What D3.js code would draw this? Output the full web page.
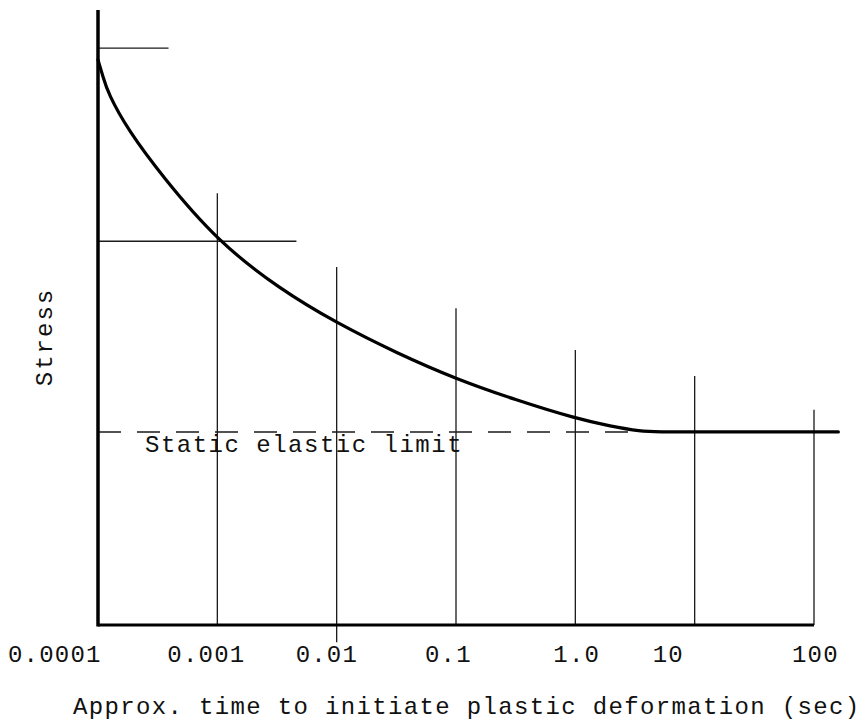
<!DOCTYPE html>
<html>
<head>
<meta charset="utf-8">
<script src="https://cdn.jsdelivr.net/npm/d3@7"></script>
<style>
  html, body { margin: 0; padding: 0; background: #fff; }
  svg { display: block; }
  text { font-family: "Liberation Mono", "DejaVu Sans Mono", monospace; fill: #111; }
</style>
</head>
<body>
<svg id="chart" width="867" height="723"></svg>
<script>
// ---- data ----
const tickValues = [1e-4, 1e-3, 1e-2, 1e-1, 1, 10, 100];
const tickLabels = ["0.0001", "0.001", "0.01", "0.1", "1.0", "10", "100"];

// curve: approx time (sec) vs stress (relative units)
const curveTimes  = [1e-4, 1.1e-4, 1.21e-4, 1.78e-4, 3.44e-4, 1e-3, 3.35e-3, 1e-2, 3.2e-2,
                     0.1, 0.316, 1, 2, 3.5, 5, 10, 100, 160];
const curveStress = [91.9, 89.2, 86.5, 80.5, 73.0, 62.4, 54.6, 49.1, 44.2,
                     40.0, 36.6, 33.6, 32.3, 31.5, 31.4, 31.4, 31.4, 31.4];

// vertical reference lines (at decades) : top/bottom stress levels
const gridTimes   = [1e-3, 1e-2, 1e-1, 1, 10, 100];
const gridTops    = [70.2, 58.2, 51.5, 44.7, 40.5, 35.0];
const gridBottoms = [0, -2.8, 0, 0, 0, 0];

// horizontal reference lines from the stress axis
const refLevels = [93.8, 62.4];
const refEnds   = [3.9e-4, 4.6e-3];

// static elastic limit
const staticLimit = 31.4;
const staticLimitEnd = 3.5;
const staticLabel = "Static elastic limit";

const xTitle = "Approx. time to initiate plastic deformation (sec)";
const yTitle = "Stress";

// ---- layout ----
const svg = d3.select("#chart");
const x = d3.scaleLog().domain([1e-4, 100]).range([98, 814]);
const y = d3.scaleLinear().domain([0, 100]).range([625, 10]);
const labelDx = [-90, -50, -41, -31, -22, -42, -22];

// vertical grid lines
svg.append("g").selectAll("line").data(gridTimes).join("line")
  .attr("x1", d => x(d)).attr("x2", d => x(d))
  .attr("y1", (d, i) => y(gridBottoms[i])).attr("y2", (d, i) => y(gridTops[i]))
  .attr("stroke", "#1a1a1a").attr("stroke-width", 1.3);

// horizontal reference lines
svg.append("g").selectAll("line").data(refLevels).join("line")
  .attr("x1", x(1e-4)).attr("x2", (d, i) => x(refEnds[i]))
  .attr("y1", d => y(d)).attr("y2", d => y(d))
  .attr("stroke", "#1a1a1a").attr("stroke-width", 1.3);

// static elastic limit dashed line
svg.append("line")
  .attr("x1", x(1e-4)).attr("x2", x(staticLimitEnd))
  .attr("y1", y(staticLimit)).attr("y2", y(staticLimit))
  .attr("stroke", "#1a1a1a").attr("stroke-width", 1.5)
  .attr("stroke-dasharray", "23 16");

svg.append("text")
  .attr("x", 145).attr("y", y(staticLimit) + 20)
  .attr("font-size", 24).attr("letter-spacing", 1.5)
  .text(staticLabel);

// axes
const xAxis = svg.append("g").attr("transform", `translate(0,${y(0)})`)
  .call(d3.axisBottom(x).tickValues(tickValues).tickSize(0).tickFormat(""));
xAxis.select(".domain").attr("stroke", "#000").attr("stroke-width", 3.2)
  .attr("d", `M${x(1e-4)},0H${x(100)}`);

const yAxis = svg.append("g").attr("transform", `translate(${x(1e-4)},0)`)
  .call(d3.axisLeft(y).tickValues([]).tickSize(0));
yAxis.select(".domain").attr("stroke", "#000").attr("stroke-width", 3.5)
  .attr("d", `M0,${y(100)}V${y(0) + 1.5}`);

// tick labels
svg.append("g").selectAll("text").data(tickValues).join("text")
  .attr("x", (d, i) => x(d) + labelDx[i])
  .attr("y", 662)
  .attr("font-size", 24).attr("letter-spacing", 1.2)
  .text((d, i) => tickLabels[i]);

// curve
const line = d3.line()
  .x((d, i) => x(curveTimes[i]))
  .y(d => y(d))
  .curve(d3.curveBasis);
svg.append("path")
  .datum(curveStress)
  .attr("d", line)
  .attr("fill", "none").attr("stroke", "#000").attr("stroke-width", 3.2)
  .attr("stroke-linecap", "round");

// axis titles
svg.append("text")
  .attr("x", 73).attr("y", 714)
  .attr("font-size", 24).attr("letter-spacing", 1.35)
  .text(xTitle);

svg.append("text")
  .attr("transform", "translate(52,337) rotate(-90)")
  .attr("text-anchor", "middle")
  .attr("font-size", 24).attr("letter-spacing", 2)
  .text(yTitle);
</script>
</body>
</html>
